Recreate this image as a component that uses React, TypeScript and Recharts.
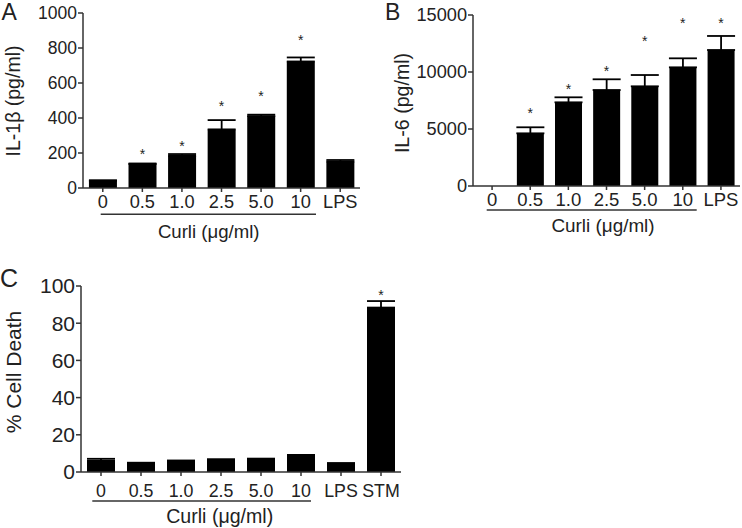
import React from 'react';
import { ComposedChart, Bar, ErrorBar, Line, XAxis, YAxis } from 'recharts';

const FONT = '"Liberation Sans", Arial, Helvetica, sans-serif';
const TEXT = '#222';
const AXIS = '#333';

// Panel A: IL-1β
const catsA = ['0', '0.5', '1.0', '2.5', '5.0', '10', 'LPS'];
const il1b = [42, 138, 184, 335, 411, 723, 151];
const il1bErr = [2, 2, 10, 53, 8, 23, 9];
const il1bStar = [null, 210, 260, 488, 542, 861, null];
const ticksA = [0, 200, 400, 600, 800, 1000];

// Panel B: IL-6
const catsB = ['0', '0.5', '1.0', '2.5', '5.0', '10', 'LPS'];
const il6 = [0, 4620, 7340, 8420, 8745, 10410, 11930];
const il6Err = [0, 530, 440, 940, 990, 790, 1230];
const il6Star = [null, 6670, 8800, 10380, 13010, 14560, 14560];
const ticksB = [0, 5000, 10000, 15000];

// Panel C: % cell death
const catsC = ['0', '0.5', '1.0', '2.5', '5.0', '10', 'LPS', 'STM'];
const death = [6.1, 4.8, 5.9, 6.5, 7.0, 9.0, 4.6, 88.4];
const deathErr = [1.0, 0.2, 0.3, 0.4, 0.2, 0.2, 0.2, 3.5];
const deathStar = [null, null, null, null, null, null, null, 96.6];
const ticksC = [0, 20, 40, 60, 80, 100];

function build(cats: string[], vals: number[], errs: number[], stars: (number | null)[]) {
  return cats.map((c, i) => ({ cat: c, val: vals[i], err: [0, errs[i]], star: stars[i] }));
}

const dataA = build(catsA, il1b, il1bErr, il1bStar);
const dataB = build(catsB, il6, il6Err, il6Star);
const dataC = build(catsC, death, deathErr, deathStar);

const renderStar = (props: any) => {
  const { cx, cy, value, index } = props;
  if (value == null || cx == null || cy == null || isNaN(cy)) return <g key={`s${index}`} />;
  return (
    <text key={`s${index}`} x={cx} y={cy + 8} textAnchor="middle" fontSize={14} fill={TEXT} fontFamily={FONT}>
      *
    </text>
  );
};

type PanelProps = {
  data: any[];
  left: number;
  top: number;
  width: number;
  height: number;
  margin: { top: number; right: number; left: number; bottom: number };
  yWidth: number;
  xHeight: number;
  domain: [number, number];
  ticks: number[];
  yFont: number;
  xFont: number;
  xTickMargin: number;
};

function Panel(p: PanelProps) {
  return (
    <div style={{ position: 'absolute', left: p.left, top: p.top, width: p.width, height: p.height }}>
      <ComposedChart width={p.width} height={p.height} data={p.data} margin={p.margin} barCategoryGap="15%">
        <XAxis
          dataKey="cat"
          type="category"
          interval={0}
          height={p.xHeight}
          tickSize={4}
          tickMargin={p.xTickMargin}
          axisLine={{ stroke: AXIS, strokeWidth: 1.5 }}
          tickLine={{ stroke: AXIS, strokeWidth: 1.5 }}
          tick={{ fill: TEXT, fontSize: p.xFont, fontFamily: FONT }}
        />
        <YAxis
          type="number"
          domain={p.domain}
          ticks={p.ticks}
          interval={0}
          width={p.yWidth}
          tickSize={5}
          tickMargin={1}
          axisLine={{ stroke: AXIS, strokeWidth: 1.5 }}
          tickLine={{ stroke: AXIS, strokeWidth: 1.5 }}
          tick={{ fill: TEXT, fontSize: p.yFont, fontFamily: FONT }}
        />
        <Bar dataKey="val" fill="#000" isAnimationActive={false}>
          <ErrorBar dataKey="err" width={14} stroke="#000" strokeWidth={1.8} direction="y" />
        </Bar>
        <Line
          dataKey="star"
          stroke="none"
          dot={renderStar}
          activeDot={false}
          legendType="none"
          isAnimationActive={false}
        />
      </ComposedChart>
    </div>
  );
}

export default function App() {
  const t = { fontFamily: FONT, fill: TEXT } as const;
  return (
    <div style={{ position: 'absolute', left: 0, top: 0, width: 742, height: 528, background: '#fff', overflow: 'hidden' }}>
      <Panel
        data={dataA}
        left={0}
        top={0}
        width={370}
        height={250}
        margin={{ top: 13, right: 10, left: 0, bottom: 0 }}
        yWidth={83}
        xHeight={62}
        domain={[0, 1000]}
        ticks={ticksA}
        yFont={17.5}
        xFont={18.2}
        xTickMargin={3}
      />
      <Panel
        data={dataB}
        left={370}
        top={0}
        width={372}
        height={250}
        margin={{ top: 15, right: 2, left: 0, bottom: 0 }}
        yWidth={103}
        xHeight={64}
        domain={[0, 15000]}
        ticks={ticksB}
        yFont={18.2}
        xFont={18.5}
        xTickMargin={3}
      />
      <Panel
        data={dataC}
        left={0}
        top={260}
        width={420}
        height={268}
        margin={{ top: 26, right: 19, left: 0, bottom: 0 }}
        yWidth={81}
        xHeight={56}
        domain={[0, 100]}
        ticks={ticksC}
        yFont={21}
        xFont={17.8}
        xTickMargin={8}
      />
      <svg width={742} height={528} style={{ position: 'absolute', left: 0, top: 0, pointerEvents: 'none' }}>
        {/* panel letters */}
        <text x={1.5} y={20} fontSize={23} {...t}>A</text>
        <text x={385} y={20} fontSize={23} {...t}>B</text>
        <text x={0} y={286.5} fontSize={25} {...t}>C</text>
        {/* y-axis titles */}
        <text transform="translate(12.5,101) rotate(-90)" textAnchor="middle" dominantBaseline="central" fontSize={19.5} {...t}>IL-1β (pg/ml)</text>
        <text transform="translate(402,103) rotate(-90)" textAnchor="middle" dominantBaseline="central" fontSize={19.6} {...t}>IL-6 (pg/ml)</text>
        <text transform="translate(13,372) rotate(-90)" textAnchor="middle" dominantBaseline="central" fontSize={21} {...t}>% Cell Death</text>
        {/* curli group brackets */}
        <line x1={100.7} x2={316} y1={214.3} y2={214.3} stroke={AXIS} strokeWidth={1.5} />
        <line x1={486.7} x2={696.7} y1={210} y2={210} stroke={AXIS} strokeWidth={1.5} />
        <line x1={92.3} x2={311} y1={501} y2={501} stroke={AXIS} strokeWidth={1.5} />
        <text x={208.7} y={238} textAnchor="middle" fontSize={18.6} {...t}>Curli (μg/ml)</text>
        <text x={603} y={232} textAnchor="middle" fontSize={18.9} {...t}>Curli (μg/ml)</text>
        <text x={219.7} y={523.3} textAnchor="middle" fontSize={19.6} {...t}>Curli (μg/ml)</text>
      </svg>
    </div>
  );
}
